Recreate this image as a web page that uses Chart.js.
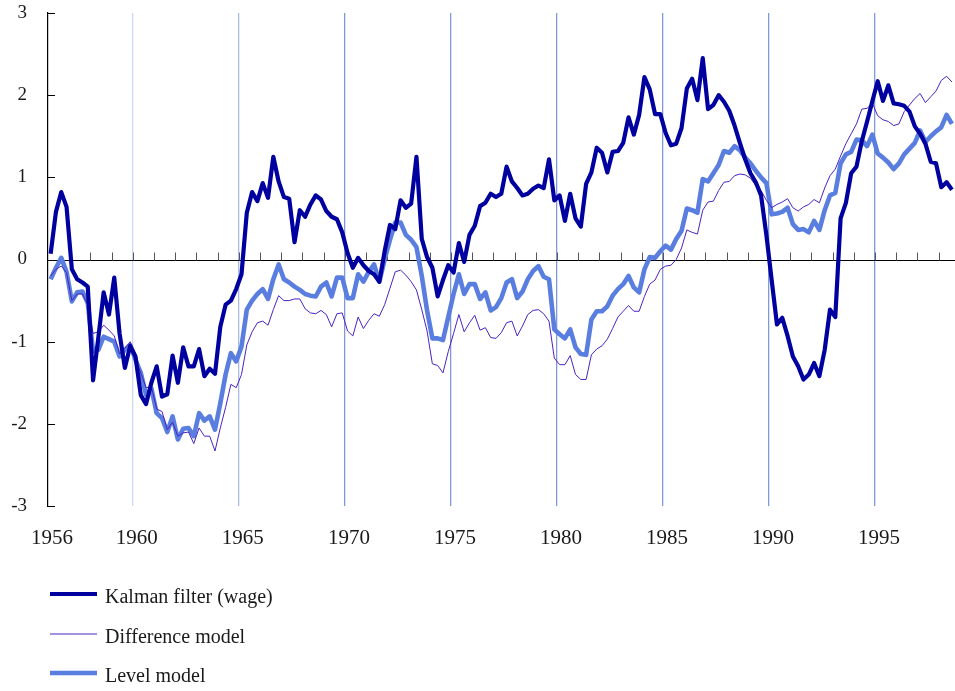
<!DOCTYPE html>
<html>
<head>
<meta charset="utf-8">
<script src="https://cdn.jsdelivr.net/npm/chart.js@4.4.1/dist/chart.umd.min.js"></script>
<style>
  html, body { margin: 0; padding: 0; background: #ffffff; }
  #wrap { width: 955px; height: 691px; position: relative; }
</style>
</head>
<body>
<div id="wrap"><canvas id="chart" width="955" height="691"></canvas></div>
<script>
// Quarterly series, first observation 1956 Q1
const startYear = 1956;
const yearLabels = [1956, 1960, 1965, 1970, 1975, 1980, 1985, 1990, 1995];
const yTickValues = [-3, -2, -1, 0, 1, 2, 3];
const seriesNames = ['Kalman filter (wage)', 'Difference model', 'Level model'];

const kalman = [
  0.07, 0.58, 0.82, 0.64, -0.12, -0.24, -0.28, -0.33, -1.47, -0.95,
  -0.4, -0.67, -0.22, -0.9, -1.32, -1.05, -1.18, -1.65, -1.76, -1.5,
  -1.3, -1.67, -1.64, -1.17, -1.5, -1.07, -1.3, -1.3, -1.09, -1.42,
  -1.33, -1.39, -0.82, -0.55, -0.5, -0.36, -0.18, 0.57, 0.82, 0.71,
  0.93, 0.75, 1.25, 0.95, 0.76, 0.74, 0.21, 0.6, 0.52, 0.67,
  0.78, 0.73, 0.59, 0.52, 0.49, 0.33, 0.08, -0.1, 0.02, -0.07,
  -0.14, -0.18, -0.27, 0.1, 0.42, 0.37, 0.72, 0.63, 0.68, 1.25,
  0.25, 0.03, -0.1, -0.45, -0.25, -0.07, -0.16, 0.2, -0.03, 0.3,
  0.41, 0.65, 0.69, 0.8, 0.76, 0.8, 1.13, 0.95, 0.87, 0.78,
  0.8, 0.86, 0.9, 0.87, 1.22, 0.72, 0.78, 0.47, 0.8, 0.5,
  0.4, 0.92, 1.06, 1.36, 1.3, 1.06, 1.31, 1.32, 1.42, 1.73,
  1.52, 1.76, 2.22, 2.07, 1.77, 1.77, 1.54, 1.39, 1.41, 1.6,
  2.08, 2.2, 1.94, 2.45, 1.83, 1.88, 2.0, 1.92, 1.81, 1.63,
  1.42, 1.22, 1.05, 0.94, 0.78, 0.3, -0.25, -0.79, -0.71, -0.93,
  -1.18, -1.3, -1.46, -1.4, -1.26, -1.42, -1.1, -0.61, -0.7, 0.5,
  0.69, 1.05, 1.13, 1.44, 1.68, 1.93, 2.17, 1.93, 2.12, 1.9,
  1.89, 1.87, 1.8, 1.62, 1.53, 1.41, 1.19, 1.17, 0.88, 0.94,
  0.85
];

const difference = [
  -0.2, -0.12, -0.08, -0.16, -0.5, -0.42, -0.42, -0.55, -0.9, -0.88,
  -0.8, -0.86, -0.93, -1.15, -1.08, -1.0, -1.2, -1.38, -1.56, -1.55,
  -1.82, -1.85, -2.07, -1.98, -2.15, -2.11, -2.1, -2.24, -2.05, -2.15,
  -2.15, -2.33, -2.05, -1.8, -1.52, -1.56, -1.4, -1.04, -0.88, -0.77,
  -0.75, -0.8, -0.61, -0.44, -0.5, -0.5, -0.48, -0.48, -0.6, -0.65,
  -0.66, -0.62, -0.67, -0.82, -0.66, -0.65, -0.87, -0.93, -0.7, -0.84,
  -0.74, -0.66, -0.69, -0.55, -0.35, -0.15, -0.13, -0.19, -0.27, -0.37,
  -0.61, -0.87, -1.27, -1.29, -1.38, -1.12, -0.9, -0.67, -0.88, -0.77,
  -0.68, -0.86, -0.83, -0.95, -0.96, -0.89, -0.77, -0.75, -0.93, -0.81,
  -0.67, -0.62, -0.61, -0.66, -0.75, -1.2, -1.28, -1.28, -1.17, -1.4,
  -1.46, -1.46, -1.16, -1.09, -1.05, -0.97, -0.84, -0.7, -0.63, -0.56,
  -0.63, -0.63, -0.45, -0.3, -0.25, -0.12, -0.08, -0.07, 0.0, 0.14,
  0.36, 0.33, 0.31, 0.6, 0.7, 0.71, 0.84, 0.94, 0.95, 1.02,
  1.04, 1.03, 0.99, 0.9, 0.84, 0.72, 0.63, 0.67, 0.7, 0.74,
  0.63, 0.59, 0.64, 0.67, 0.73, 0.69, 0.87, 1.02, 1.1, 1.26,
  1.41, 1.53, 1.65, 1.83, 1.84, 1.9, 1.75, 1.7, 1.68, 1.63,
  1.65, 1.8, 1.88, 1.96, 2.02, 1.91, 1.98, 2.05, 2.18, 2.23,
  2.16
];

const level = [
  -0.24, -0.1, 0.02, -0.15, -0.51, -0.4, -0.39, -0.53, -1.12, -1.1,
  -0.94, -0.97, -1.0, -1.18, -1.1, -1.04, -1.22, -1.38, -1.65, -1.57,
  -1.87, -1.93, -2.1, -1.91, -2.19, -2.06, -2.05, -2.15, -1.87, -1.96,
  -1.91, -2.07, -1.75, -1.4, -1.14, -1.24, -1.06, -0.61, -0.5, -0.42,
  -0.36, -0.48, -0.24, -0.06, -0.24, -0.28, -0.33, -0.37, -0.42, -0.44,
  -0.45, -0.33, -0.28, -0.45, -0.22, -0.22, -0.47, -0.47, -0.18, -0.27,
  -0.15, -0.06, -0.27, 0.0, 0.24, 0.45, 0.45, 0.3, 0.24, 0.15,
  -0.2, -0.62, -0.96, -0.96, -0.98, -0.7, -0.42, -0.18, -0.42, -0.3,
  -0.3, -0.48, -0.4, -0.62, -0.58, -0.47, -0.28, -0.24, -0.47, -0.39,
  -0.24, -0.14, -0.08, -0.21, -0.24, -0.85, -0.91, -0.96, -0.85, -1.07,
  -1.15, -1.16, -0.73, -0.63, -0.63, -0.57, -0.44, -0.36, -0.3, -0.2,
  -0.34, -0.4, -0.12, 0.03, 0.02, 0.1, 0.17, 0.12, 0.25, 0.35,
  0.62, 0.6, 0.57, 0.98, 0.95, 1.05, 1.15, 1.32, 1.3, 1.38,
  1.33, 1.24, 1.17, 1.08, 1.0, 0.93, 0.55, 0.56, 0.58, 0.63,
  0.43, 0.36, 0.37, 0.33, 0.47, 0.36, 0.6, 0.78, 0.81, 1.17,
  1.28, 1.31, 1.46, 1.45, 1.38, 1.52, 1.29, 1.24, 1.18, 1.1,
  1.17, 1.28, 1.35, 1.42, 1.57, 1.43, 1.5, 1.56, 1.61, 1.76,
  1.65
];

const COLORS = {
  kalman: '#0000a0',
  difference: '#4a22c4',
  level: '#5a7ee0',
  text: '#1a1a1a'
};
const SERIF = '"Liberation Serif", "Times New Roman", serif';

// place each quarterly value at the middle of its quarter
function quarterPoints(values) {
  return values.map((v, i) => ({ x: startYear + (i + 0.5) / 4, y: v }));
}

// zero line with yearly tick marks, plus inward ticks on the value axis
const axisDecor = {
  id: 'axisDecor',
  beforeDatasetsDraw(chart) {
    const { ctx, chartArea, scales } = chart;
    const xs = scales.x, ys = scales.y;
    const y0 = Math.round(ys.getPixelForValue(0)) + 0.5;
    ctx.save();
    ctx.strokeStyle = '#000';
    ctx.lineWidth = 1.2;
    ctx.beginPath();
    ctx.moveTo(chartArea.left, y0);
    ctx.lineTo(chartArea.right, y0);
    ctx.stroke();

    ctx.strokeStyle = '#555';
    ctx.lineWidth = 1;
    ctx.beginPath();
    for (let yr = startYear + 1; yr <= 1998; yr++) {
      const x = Math.round(xs.getPixelForValue(yr)) + 0.5;
      ctx.moveTo(x, y0);
      ctx.lineTo(x, y0 - 8);
    }
    ctx.stroke();

    ctx.strokeStyle = '#000';
    ctx.beginPath();
    yTickValues.forEach(v => {
      if (v === 0) return;
      const y = Math.round(ys.getPixelForValue(v)) + 0.5;
      ctx.moveTo(chartArea.left, y);
      ctx.lineTo(chartArea.left + 7, y);
    });
    ctx.stroke();
    ctx.restore();
  }
};

// stacked legend under the plot
const stackedLegend = {
  id: 'stackedLegend',
  afterDraw(chart) {
    const { ctx } = chart;
    const rows = [594, 634, 673];
    ctx.save();
    ctx.font = '20px ' + SERIF;
    ctx.fillStyle = COLORS.text;
    ctx.textBaseline = 'middle';
    ctx.textAlign = 'left';
    chart.data.datasets.forEach((ds, i) => {
      const y = rows[i];
      ctx.strokeStyle = ds.borderColor;
      ctx.lineWidth = ds.borderWidth;
      ctx.lineCap = 'butt';
      ctx.beginPath();
      ctx.moveTo(50, y);
      ctx.lineTo(97, y);
      ctx.stroke();
      ctx.fillText(ds.label, 105, y + 4);
    });
    ctx.restore();
  }
};

function gridColor(value) {
  if (value === 1956) return 'rgba(0,0,0,0)';
  if (value === 1960) return '#cbd7ef';
  if (value === 1965) return '#a9bbe4';
  return '#7f9ad6';
}

new Chart(document.getElementById('chart'), {
  type: 'line',
  data: {
    datasets: [
      {
        label: seriesNames[0],
        data: quarterPoints(kalman),
        borderColor: COLORS.kalman,
        borderWidth: 4.2,
        pointRadius: 0,
        tension: 0,
        borderJoinStyle: 'round'
      },
      {
        label: seriesNames[1],
        data: quarterPoints(difference),
        borderColor: COLORS.difference,
        borderWidth: 1,
        pointRadius: 0,
        tension: 0
      },
      {
        label: seriesNames[2],
        data: quarterPoints(level),
        borderColor: COLORS.level,
        borderWidth: 4.6,
        pointRadius: 0,
        tension: 0,
        borderJoinStyle: 'round'
      }
    ]
  },
  options: {
    responsive: false,
    devicePixelRatio: 1,
    animation: false,
    layout: { padding: { top: 13, bottom: 140, left: 0, right: 0 } },
    plugins: {
      legend: { display: false },
      tooltip: { enabled: false }
    },
    scales: {
      x: {
        type: 'linear',
        min: 1956,
        max: 1998.77,
        afterBuildTicks(scale) {
          scale.ticks = yearLabels.map(v => ({ value: v }));
        },
        afterFit(scale) { scale.height = 45; },
        ticks: {
          autoSkip: false,
          maxRotation: 0,
          padding: 20,
          labelOffset: 4,
          color: COLORS.text,
          font: { family: SERIF, size: 21 },
          callback: v => String(v)
        },
        grid: {
          drawTicks: false,
          lineWidth: 1.3,
          color: ctx => gridColor(ctx.tick ? ctx.tick.value : 0)
        },
        border: { display: false }
      },
      y: {
        min: -3,
        max: 3,
        afterBuildTicks(scale) {
          scale.ticks = yTickValues.map(v => ({ value: v }));
        },
        afterFit(scale) {
          scale.width = 48;
          scale.paddingTop = 0;
          scale.paddingBottom = 0;
        },
        ticks: {
          padding: 21,
          color: COLORS.text,
          font: { family: SERIF, size: 19 },
          callback: v => String(v)
        },
        grid: { display: false, drawTicks: false },
        border: { display: true, color: '#000', width: 1.2 }
      }
    }
  },
  plugins: [axisDecor, stackedLegend]
});
</script>
</body>
</html>
